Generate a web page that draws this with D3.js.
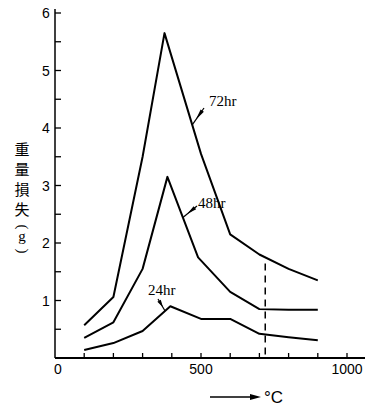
<!DOCTYPE html>
<html><head><meta charset="utf-8">
<script src="https://cdn.jsdelivr.net/npm/d3@7"></script>
<style>body{margin:0;background:#fff}svg{display:block}</style>
</head><body>
<script>
const temps72 = [100, 200, 300, 375, 500, 600, 700, 800, 900];
const loss72  = [0.57, 1.06, 3.5, 5.65, 3.55, 2.15, 1.8, 1.55, 1.35];
const temps48 = [100, 200, 300, 385, 490, 600, 700, 800, 900];
const loss48  = [0.35, 0.62, 1.55, 3.15, 1.75, 1.15, 0.85, 0.84, 0.84];
const temps24 = [100, 200, 300, 395, 500, 600, 700, 800, 900];
const loss24  = [0.14, 0.26, 0.47, 0.9, 0.68, 0.68, 0.42, 0.36, 0.31];
const seriesLabels = ["72hr", "48hr", "24hr"];
const xTickLabels = [0, 500, 1000];
const yTickLabels = [1, 2, 3, 4, 5, 6];
const markerTemp = 720;
const yTitleChars = ["重", "量", "損", "失", "(", "g", ")"];

const W = 376, H = 408;
const svg = d3.select("body").append("svg").attr("width", W).attr("height", H);
const x = d3.scaleLinear().domain([0, 1000]).range([55, 347]);
const y = d3.scaleLinear().domain([0, 6]).range([358, 13]);

// axes
svg.append("line").attr("x1", x(0)).attr("x2", 365).attr("y1", y(0)).attr("y2", y(0))
  .attr("stroke", "#000").attr("stroke-width", 2);
svg.append("line").attr("x1", x(0)).attr("x2", x(0)).attr("y1", y(0)).attr("y2", 9)
  .attr("stroke", "#000").attr("stroke-width", 1.5);

d3.range(0, 6.01, 0.5).filter(v => v > 0).forEach(v => {
  svg.append("line").attr("x1", x(0)).attr("x2", x(0) + 6).attr("y1", y(v)).attr("y2", y(v))
    .attr("stroke", "#000").attr("stroke-width", 1.3);
});
d3.range(100, 1001, 100).forEach(v => {
  svg.append("line").attr("x1", x(v)).attr("x2", x(v)).attr("y1", y(0)).attr("y2", y(0) - 5)
    .attr("stroke", "#000").attr("stroke-width", 1.3);
});

const tickFont = "'Liberation Sans', Arial, sans-serif";
yTickLabels.forEach(v => {
  svg.append("text").attr("x", 46).attr("y", y(v) + 5).attr("text-anchor", "middle")
    .attr("font-family", tickFont).attr("font-size", 14).text(v);
});
xTickLabels.forEach(v => {
  svg.append("text").attr("x", v === 0 ? x(v) + 3 : x(v)).attr("y", 374).attr("text-anchor", "middle")
    .attr("font-family", tickFont).attr("font-size", 14).text(v);
});

// y title (vertical, one glyph per row; parentheses turned for vertical writing)
const titleRows = [
  {cy: 150, size: 15}, {cy: 170, size: 15}, {cy: 190, size: 15}, {cy: 210, size: 15},
  {cy: 227, size: 15, rot: true}, {cy: 238, size: 15}, {cy: 251, size: 15, rot: true}
];
yTitleChars.forEach((c, i) => {
  const r = titleRows[i];
  const cjk = /[\u4e00-\u9fff]/.test(c);
  const t = svg.append("text")
    .attr("font-family", cjk ? "'Noto Sans CJK JP', sans-serif" : "'Liberation Serif', serif")
    .attr("font-size", r.size).attr("text-anchor", "middle").text(c);
  if (r.rot) {
    t.attr("x", 0).attr("y", r.size * 0.3).attr("transform", `translate(22,${r.cy}) rotate(90)`);
  } else {
    t.attr("x", 22).attr("y", r.cy + r.size * (cjk ? 0.36 : 0.2));
  }
});

// x title arrow + °C
const ax0 = 210, ax1 = 261, ay = 397;
svg.append("line").attr("x1", ax0).attr("x2", ax1 - 8).attr("y1", ay).attr("y2", ay)
  .attr("stroke", "#000").attr("stroke-width", 1.5);
svg.append("path").attr("d", `M${ax1},${ay} L${ax1 - 11},${ay - 3} L${ax1 - 11},${ay + 3} Z`).attr("fill", "#000");
svg.append("text").attr("x", 264).attr("y", ay + 6).attr("font-family", "'Liberation Sans', sans-serif")
  .attr("font-size", 17).text("°C");

// curves
const line = d3.line().x(d => x(d[0])).y(d => y(d[1]));
const temps = [temps72, temps48, temps24], losses = [loss72, loss48, loss24];
const data = temps.map((t, i) => d3.zip(t, losses[i]));
data.forEach(d => {
  svg.append("path").attr("d", line(d)).attr("fill", "none").attr("stroke", "#000")
    .attr("stroke-width", 2).attr("stroke-linejoin", "round");
});

const interp = (ts, vs, t) => {
  for (let i = 0; i < ts.length - 1; i++) if (t >= ts[i] && t <= ts[i + 1])
    return vs[i] + (vs[i + 1] - vs[i]) * (t - ts[i]) / (ts[i + 1] - ts[i]);
};
// dashed marker
svg.append("line").attr("x1", x(markerTemp)).attr("x2", x(markerTemp))
  .attr("y1", y(interp(temps72, loss72, markerTemp)) + 6).attr("y2", y(0))
  .attr("stroke", "#000").attr("stroke-width", 1.5).attr("stroke-dasharray", "7,5");

// labels with arrows
const labelSpecs = [
  {t: 470, lx: 209, ly: 106, from: [204, 108]},
  {t: 438, lx: 198, ly: 208, from: [197, 206]},
  {t: 377, lx: 148, ly: 295, from: [158, 299]}
];
const serif = "'Liberation Serif', 'Times New Roman', serif";
labelSpecs.forEach((s, i) => {
  const px = x(s.t), py = y(interp(temps[i], losses[i], s.t));
  const [fx, fy] = s.from;
  const ang = Math.atan2(py - fy, px - fx);
  const len = Math.hypot(px - fx, py - fy);
  svg.append("line").attr("x1", fx).attr("y1", fy).attr("x2", px).attr("y2", py)
    .attr("stroke", "#000").attr("stroke-width", 1.2);
  const hx = fx + Math.cos(ang) * len * 0.15, hy = fy + Math.sin(ang) * len * 0.15;
  const ex = fx + Math.cos(ang) * len * 0.7, ey = fy + Math.sin(ang) * len * 0.7;
  const nx = -Math.sin(ang) * 2, ny = Math.cos(ang) * 2;
  svg.append("path").attr("d", `M${ex},${ey} L${hx + nx},${hy + ny} L${hx - nx},${hy - ny} Z`).attr("fill", "#000");
  svg.append("text").attr("x", s.lx).attr("y", s.ly).attr("font-family", serif)
    .attr("font-size", 15).text(seriesLabels[i]);
});
</script>
</body></html>
